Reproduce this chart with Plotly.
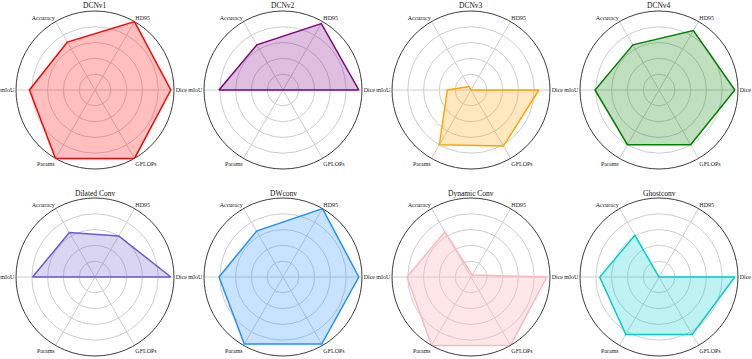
import plotly.graph_objects as go

# Axis categories (counter-clockwise from the right) and angles
categories = ["Dice", "HD95", "Accuracy", "mIoU", "Params", "GFLOPs"]
angles = [0, 60, 120, 180, 240, 300]

# Normalised scores per model
models = ["DCNv1", "DCNv2", "DCNv3", "DCNv4",
          "Dilated Conv", "DWconv", "Dynamic Conv", "Ghostconv"]
dcnv1 = [0.96, 1.00, 0.70, 0.83, 1.00, 1.00]
dcnv2 = [0.96, 0.97, 0.66, 0.81, 0.00, 0.00]
dcnv3 = [0.86, 0.00, 0.05, 0.30, 0.80, 0.82]
dcnv4 = [0.96, 0.87, 0.66, 0.81, 0.80, 0.80]
dilated = [0.96, 0.60, 0.65, 0.79, 0.00, 0.00]
dwconv = [0.96, 1.00, 0.67, 0.81, 0.98, 0.98]
dynamic = [0.96, 0.03, 0.66, 0.81, 1.00, 1.00]
ghost = [0.96, 0.00, 0.61, 0.75, 0.84, 0.84]
series = [dcnv1, dcnv2, dcnv3, dcnv4, dilated, dwconv, dynamic, ghost]

line_colors = ["rgb(255,0,0)", "rgb(128,0,128)", "rgb(255,165,0)", "rgb(0,128,0)",
               "rgb(106,90,205)", "rgb(30,144,255)", "rgb(255,182,193)", "rgb(0,206,209)"]
fill_colors = ["rgba(255,0,0,0.25)", "rgba(128,0,128,0.25)", "rgba(255,165,0,0.25)",
               "rgba(0,128,0,0.25)", "rgba(106,90,205,0.25)", "rgba(30,144,255,0.25)",
               "rgba(255,182,193,0.35)", "rgba(0,206,209,0.25)"]

W, H = 752, 359
R = 79
col_cx = [95, 283, 471, 659]
row_cy = [90, 277]
title_y = [5, 193]

fig = go.Figure()
annotations = []
layout_polars = {}
for i, (name, vals) in enumerate(zip(models, series)):
    row, col = divmod(i, 4)
    pname = "polar" if i == 0 else f"polar{i+1}"
    sub = "polar" if i == 0 else f"polar{i+1}"
    cx, cy = col_cx[col], row_cy[row]
    fig.add_trace(go.Scatterpolar(
        r=vals + vals[:1], theta=angles + angles[:1], mode="lines",
        line=dict(color=line_colors[i], width=1.5), fill="toself",
        fillcolor=fill_colors[i], subplot=sub, showlegend=False, name=name))
    layout_polars[pname] = dict(
        domain=dict(x=[(cx - R) / W, (cx + R) / W],
                    y=[1 - (cy + R) / H, 1 - (cy - R) / H]),
        bgcolor="white",
        radialaxis=dict(range=[0, 1], tickvals=[0.2, 0.4, 0.6, 0.8, 1.0],
                        showticklabels=False, ticks="", showline=False,
                        gridcolor="rgb(205,205,205)", gridwidth=0.8),
        angularaxis=dict(rotation=0, direction="counterclockwise",
                         tickmode="array", tickvals=angles, ticktext=categories,
                         ticks="", showline=True, linecolor="rgb(60,60,60)",
                         linewidth=1, gridcolor="rgb(205,205,205)", gridwidth=0.8,
                         tickfont=dict(family="Liberation Serif", size=6, color="#222")),
    )
    annotations.append(dict(text=name, x=cx / W, y=1 - title_y[row] / H,
                            xref="paper", yref="paper", showarrow=False,
                            xanchor="center", yanchor="middle",
                            font=dict(family="Liberation Serif", size=7.5, color="#111")))

fig.update_layout(width=W, height=H, margin=dict(l=0, r=0, t=0, b=0),
                  paper_bgcolor="white", annotations=annotations, **layout_polars)
fig.write_html("out.html")
